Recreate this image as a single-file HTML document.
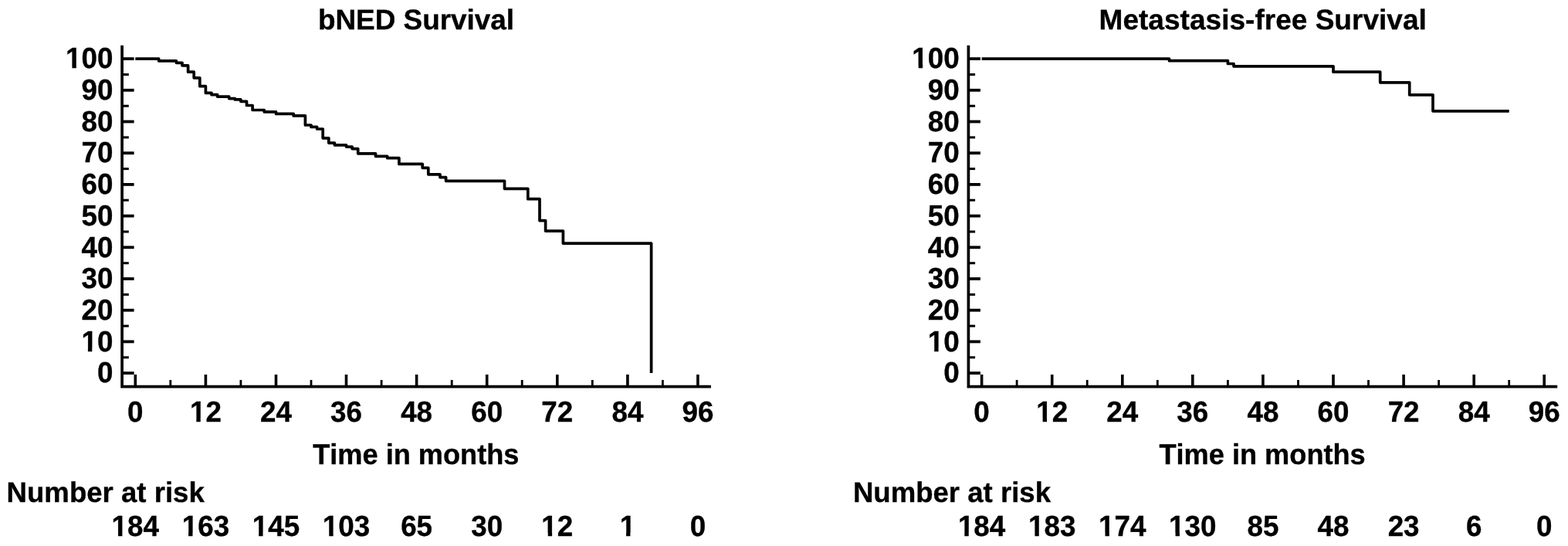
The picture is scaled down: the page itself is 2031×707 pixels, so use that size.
<!DOCTYPE html>
<html lang="en">
<head>
<meta charset="utf-8">
<title>bNED Survival and Metastasis-free Survival</title>
<style>
html,body{margin:0;padding:0;background:#fff;}
body{width:2031px;height:707px;overflow:hidden;}
svg{display:block;}
svg text{font-family:"Liberation Sans",Arial,Helvetica,sans-serif;font-weight:bold;font-size:36.8px;fill:#000;stroke:#000;stroke-width:0.35px;stroke-linejoin:miter;font-kerning:none;text-rendering:geometricPrecision;}
</style>
</head>
<body>
<svg width="2031" height="707" viewBox="0 0 2031 707">
<rect width="2031" height="707" fill="#fff"/>
<g>
<path d="M158.1 58.8V500.6H920.9" fill="none" stroke="#000" stroke-width="3.7" stroke-linecap="butt" stroke-linejoin="miter"/>
<path d="M158.1 483.1H173.6" stroke="#000" stroke-width="3.8"/>
<text transform="translate(146.4 495.35) scale(1 1.025)" text-anchor="end">0</text>
<path d="M158.1 462.8H166.8" stroke="#000" stroke-width="3"/>
<path d="M158.1 442.4H173.6" stroke="#000" stroke-width="3.8"/>
<text transform="translate(146.4 454.65) scale(1 1.025)" text-anchor="end">10</text>
<rect x="107.00" y="449.43" width="6.00" height="7.22" fill="#fff"/>
<rect x="120.00" y="449.43" width="6.00" height="7.22" fill="#fff"/>
<rect x="113.00" y="450.63" width="0.88" height="6.02" fill="#fff"/>
<rect x="119.28" y="450.63" width="0.72" height="6.02" fill="#fff"/>
<path d="M158.1 422.1H166.8" stroke="#000" stroke-width="3"/>
<path d="M158.1 401.7H173.6" stroke="#000" stroke-width="3.8"/>
<text transform="translate(146.4 413.95) scale(1 1.025)" text-anchor="end">20</text>
<path d="M158.1 381.4H166.8" stroke="#000" stroke-width="3"/>
<path d="M158.1 361.0H173.6" stroke="#000" stroke-width="3.8"/>
<text transform="translate(146.4 373.25) scale(1 1.025)" text-anchor="end">30</text>
<path d="M158.1 340.7H166.8" stroke="#000" stroke-width="3"/>
<path d="M158.1 320.3H173.6" stroke="#000" stroke-width="3.8"/>
<text transform="translate(146.4 332.55) scale(1 1.025)" text-anchor="end">40</text>
<path d="M158.1 300.0H166.8" stroke="#000" stroke-width="3"/>
<path d="M158.1 279.6H173.6" stroke="#000" stroke-width="3.8"/>
<text transform="translate(146.4 291.85) scale(1 1.025)" text-anchor="end">50</text>
<path d="M158.1 259.2H166.8" stroke="#000" stroke-width="3"/>
<path d="M158.1 238.9H173.6" stroke="#000" stroke-width="3.8"/>
<text transform="translate(146.4 251.15) scale(1 1.025)" text-anchor="end">60</text>
<path d="M158.1 218.6H166.8" stroke="#000" stroke-width="3"/>
<path d="M158.1 198.2H173.6" stroke="#000" stroke-width="3.8"/>
<text transform="translate(146.4 210.45) scale(1 1.025)" text-anchor="end">70</text>
<path d="M158.1 177.9H166.8" stroke="#000" stroke-width="3"/>
<path d="M158.1 157.5H173.6" stroke="#000" stroke-width="3.8"/>
<text transform="translate(146.4 169.75) scale(1 1.025)" text-anchor="end">80</text>
<path d="M158.1 137.2H166.8" stroke="#000" stroke-width="3"/>
<path d="M158.1 116.8H173.6" stroke="#000" stroke-width="3.8"/>
<text transform="translate(146.4 129.05) scale(1 1.025)" text-anchor="end">90</text>
<path d="M158.1 96.5H166.8" stroke="#000" stroke-width="3"/>
<path d="M158.1 76.1H173.6" stroke="#000" stroke-width="3.8"/>
<text transform="translate(146.4 88.35) scale(1 1.025)" text-anchor="end">100</text>
<rect x="87.00" y="83.13" width="6.00" height="7.22" fill="#fff"/>
<rect x="99.00" y="83.13" width="6.00" height="7.22" fill="#fff"/>
<rect x="93.00" y="84.33" width="0.41" height="6.02" fill="#fff"/>
<rect x="98.81" y="84.33" width="0.19" height="6.02" fill="#fff"/>
<path d="M175.3 485V500.6" stroke="#000" stroke-width="3.6"/>
<text transform="translate(175.3 545.9) scale(1 1.025)" text-anchor="middle">0</text>
<text transform="translate(175.3 694.0) scale(1 1.025)" text-anchor="middle">184</text>
<rect x="146.00" y="688.78" width="7.00" height="7.22" fill="#fff"/>
<rect x="159.00" y="688.78" width="6.00" height="7.22" fill="#fff"/>
<rect x="153.00" y="689.98" width="0.01" height="6.02" fill="#fff"/>
<rect x="158.41" y="689.98" width="0.59" height="6.02" fill="#fff"/>
<path d="M220.8 492V500.6" stroke="#000" stroke-width="2.8"/>
<path d="M266.4 485V500.6" stroke="#000" stroke-width="3.6"/>
<text transform="translate(266.4 545.9) scale(1 1.025)" text-anchor="middle">12</text>
<text transform="translate(266.4 694.0) scale(1 1.025)" text-anchor="middle">163</text>
<rect x="248.00" y="540.68" width="6.00" height="7.22" fill="#fff"/>
<rect x="260.00" y="540.68" width="6.00" height="7.22" fill="#fff"/>
<rect x="254.00" y="541.88" width="0.33" height="6.02" fill="#fff"/>
<rect x="259.73" y="541.88" width="0.27" height="6.02" fill="#fff"/>
<rect x="237.00" y="688.78" width="7.00" height="7.22" fill="#fff"/>
<rect x="250.00" y="688.78" width="6.00" height="7.22" fill="#fff"/>
<rect x="244.00" y="689.98" width="0.09" height="6.02" fill="#fff"/>
<rect x="249.49" y="689.98" width="0.51" height="6.02" fill="#fff"/>
<path d="M311.9 492V500.6" stroke="#000" stroke-width="2.8"/>
<path d="M357.5 485V500.6" stroke="#000" stroke-width="3.6"/>
<text transform="translate(357.5 545.9) scale(1 1.025)" text-anchor="middle">24</text>
<text transform="translate(357.5 694.0) scale(1 1.025)" text-anchor="middle">145</text>
<rect x="328.00" y="688.78" width="7.00" height="7.22" fill="#fff"/>
<rect x="341.00" y="688.78" width="6.00" height="7.22" fill="#fff"/>
<rect x="335.00" y="689.98" width="0.17" height="6.02" fill="#fff"/>
<rect x="340.57" y="689.98" width="0.43" height="6.02" fill="#fff"/>
<path d="M403.0 492V500.6" stroke="#000" stroke-width="2.8"/>
<path d="M448.5 485V500.6" stroke="#000" stroke-width="3.6"/>
<text transform="translate(448.5 545.9) scale(1 1.025)" text-anchor="middle">36</text>
<text transform="translate(448.5 694.0) scale(1 1.025)" text-anchor="middle">103</text>
<rect x="419.00" y="688.78" width="7.00" height="7.22" fill="#fff"/>
<rect x="432.00" y="688.78" width="6.00" height="7.22" fill="#fff"/>
<rect x="426.00" y="689.98" width="0.25" height="6.02" fill="#fff"/>
<rect x="431.65" y="689.98" width="0.35" height="6.02" fill="#fff"/>
<path d="M494.1 492V500.6" stroke="#000" stroke-width="2.8"/>
<path d="M539.6 485V500.6" stroke="#000" stroke-width="3.6"/>
<text transform="translate(539.6 545.9) scale(1 1.025)" text-anchor="middle">48</text>
<text transform="translate(539.6 694.0) scale(1 1.025)" text-anchor="middle">65</text>
<path d="M585.2 492V500.6" stroke="#000" stroke-width="2.8"/>
<path d="M630.7 485V500.6" stroke="#000" stroke-width="3.6"/>
<text transform="translate(630.7 545.9) scale(1 1.025)" text-anchor="middle">60</text>
<text transform="translate(630.7 694.0) scale(1 1.025)" text-anchor="middle">30</text>
<path d="M676.2 492V500.6" stroke="#000" stroke-width="2.8"/>
<path d="M721.8 485V500.6" stroke="#000" stroke-width="3.6"/>
<text transform="translate(721.8 545.9) scale(1 1.025)" text-anchor="middle">72</text>
<text transform="translate(721.8 694.0) scale(1 1.025)" text-anchor="middle">12</text>
<rect x="703.00" y="688.78" width="6.00" height="7.22" fill="#fff"/>
<rect x="716.00" y="688.78" width="5.00" height="7.22" fill="#fff"/>
<rect x="709.00" y="689.98" width="0.73" height="6.02" fill="#fff"/>
<rect x="715.13" y="689.98" width="0.87" height="6.02" fill="#fff"/>
<path d="M767.3 492V500.6" stroke="#000" stroke-width="2.8"/>
<path d="M812.9 485V500.6" stroke="#000" stroke-width="3.6"/>
<text transform="translate(812.9 545.9) scale(1 1.025)" text-anchor="middle">84</text>
<text transform="translate(812.9 694.0) scale(1 1.025)" text-anchor="middle">1</text>
<rect x="804.00" y="688.78" width="7.00" height="7.22" fill="#fff"/>
<rect x="817.00" y="688.78" width="6.00" height="7.22" fill="#fff"/>
<rect x="811.00" y="689.98" width="0.04" height="6.02" fill="#fff"/>
<rect x="816.44" y="689.98" width="0.56" height="6.02" fill="#fff"/>
<path d="M858.4 492V500.6" stroke="#000" stroke-width="2.8"/>
<path d="M903.9 485V500.6" stroke="#000" stroke-width="3.6"/>
<text transform="translate(903.9 545.9) scale(1 1.025)" text-anchor="middle">96</text>
<text transform="translate(903.9 694.0) scale(1 1.025)" text-anchor="middle">0</text>
<path d="M175.3 76.1H205.7V78.9H228.4V81.3H236.0V84.8H243.6V93.2H251.2V100.8H258.8V111.7H266.4V120.4H274.0V122.7H281.6V125.1H296.7V127.6H304.3V128.9H311.9V131.3H319.5V136.5H327.1V142.5H342.3V144.9H357.5V147.4H380.2V149.9H395.4V162.0H403.0V164.4H410.6V167.0H418.2V178.8H425.8V185.1H433.4V187.8H448.5V190.1H456.1V192.6H463.7V198.8H486.5V202.3H501.7V204.7H516.9V212.4H547.2V217.3H554.8V225.8H570.0V229.6H577.6V234.3H653.5V244.3H683.8V257.7H699.0V285.7H706.6V299.1H729.4V315.1H843.6V483.1" fill="none" stroke="#000" stroke-width="3.7" stroke-linejoin="round" stroke-linecap="butt"/>
<text transform="translate(539.0 38.2) scale(1.0025 1)" text-anchor="middle">bNED Survival</text>
<text transform="translate(538.8 600.8) scale(0.983 1.015)" text-anchor="middle">Time in months</text>
<text transform="translate(8.6 650) scale(0.994 1)" text-anchor="start">Number at risk</text>
</g>
<g>
<path d="M1254.4 58.8V500.6H2017.2" fill="none" stroke="#000" stroke-width="3.7" stroke-linecap="butt" stroke-linejoin="miter"/>
<path d="M1254.4 483.1H1269.9" stroke="#000" stroke-width="3.8"/>
<text transform="translate(1242.7 495.35) scale(1 1.025)" text-anchor="end">0</text>
<path d="M1254.4 462.8H1263.1" stroke="#000" stroke-width="3"/>
<path d="M1254.4 442.4H1269.9" stroke="#000" stroke-width="3.8"/>
<text transform="translate(1242.7 454.65) scale(1 1.025)" text-anchor="end">10</text>
<rect x="1203.00" y="449.43" width="7.00" height="7.22" fill="#fff"/>
<rect x="1216.00" y="449.43" width="6.00" height="7.22" fill="#fff"/>
<rect x="1210.00" y="450.63" width="0.18" height="6.02" fill="#fff"/>
<rect x="1215.58" y="450.63" width="0.42" height="6.02" fill="#fff"/>
<path d="M1254.4 422.1H1263.1" stroke="#000" stroke-width="3"/>
<path d="M1254.4 401.7H1269.9" stroke="#000" stroke-width="3.8"/>
<text transform="translate(1242.7 413.95) scale(1 1.025)" text-anchor="end">20</text>
<path d="M1254.4 381.4H1263.1" stroke="#000" stroke-width="3"/>
<path d="M1254.4 361.0H1269.9" stroke="#000" stroke-width="3.8"/>
<text transform="translate(1242.7 373.25) scale(1 1.025)" text-anchor="end">30</text>
<path d="M1254.4 340.7H1263.1" stroke="#000" stroke-width="3"/>
<path d="M1254.4 320.3H1269.9" stroke="#000" stroke-width="3.8"/>
<text transform="translate(1242.7 332.55) scale(1 1.025)" text-anchor="end">40</text>
<path d="M1254.4 300.0H1263.1" stroke="#000" stroke-width="3"/>
<path d="M1254.4 279.6H1269.9" stroke="#000" stroke-width="3.8"/>
<text transform="translate(1242.7 291.85) scale(1 1.025)" text-anchor="end">50</text>
<path d="M1254.4 259.2H1263.1" stroke="#000" stroke-width="3"/>
<path d="M1254.4 238.9H1269.9" stroke="#000" stroke-width="3.8"/>
<text transform="translate(1242.7 251.15) scale(1 1.025)" text-anchor="end">60</text>
<path d="M1254.4 218.6H1263.1" stroke="#000" stroke-width="3"/>
<path d="M1254.4 198.2H1269.9" stroke="#000" stroke-width="3.8"/>
<text transform="translate(1242.7 210.45) scale(1 1.025)" text-anchor="end">70</text>
<path d="M1254.4 177.9H1263.1" stroke="#000" stroke-width="3"/>
<path d="M1254.4 157.5H1269.9" stroke="#000" stroke-width="3.8"/>
<text transform="translate(1242.7 169.75) scale(1 1.025)" text-anchor="end">80</text>
<path d="M1254.4 137.2H1263.1" stroke="#000" stroke-width="3"/>
<path d="M1254.4 116.8H1269.9" stroke="#000" stroke-width="3.8"/>
<text transform="translate(1242.7 129.05) scale(1 1.025)" text-anchor="end">90</text>
<path d="M1254.4 96.5H1263.1" stroke="#000" stroke-width="3"/>
<path d="M1254.4 76.1H1269.9" stroke="#000" stroke-width="3.8"/>
<text transform="translate(1242.7 88.35) scale(1 1.025)" text-anchor="end">100</text>
<rect x="1183.00" y="83.13" width="6.00" height="7.22" fill="#fff"/>
<rect x="1196.00" y="83.13" width="5.00" height="7.22" fill="#fff"/>
<rect x="1189.00" y="84.33" width="0.71" height="6.02" fill="#fff"/>
<rect x="1195.11" y="84.33" width="0.89" height="6.02" fill="#fff"/>
<path d="M1271.6 485V500.6" stroke="#000" stroke-width="3.6"/>
<text transform="translate(1271.6 545.9) scale(1 1.025)" text-anchor="middle">0</text>
<text transform="translate(1271.6 694.0) scale(1 1.025)" text-anchor="middle">184</text>
<rect x="1243.00" y="688.78" width="6.00" height="7.22" fill="#fff"/>
<rect x="1255.00" y="688.78" width="6.00" height="7.22" fill="#fff"/>
<rect x="1249.00" y="689.98" width="0.31" height="6.02" fill="#fff"/>
<rect x="1254.71" y="689.98" width="0.29" height="6.02" fill="#fff"/>
<path d="M1317.1 492V500.6" stroke="#000" stroke-width="2.8"/>
<path d="M1362.7 485V500.6" stroke="#000" stroke-width="3.6"/>
<text transform="translate(1362.7 545.9) scale(1 1.025)" text-anchor="middle">12</text>
<text transform="translate(1362.7 694.0) scale(1 1.025)" text-anchor="middle">183</text>
<rect x="1344.00" y="540.68" width="6.00" height="7.22" fill="#fff"/>
<rect x="1357.00" y="540.68" width="5.00" height="7.22" fill="#fff"/>
<rect x="1350.00" y="541.88" width="0.63" height="6.02" fill="#fff"/>
<rect x="1356.03" y="541.88" width="0.97" height="6.02" fill="#fff"/>
<rect x="1334.00" y="688.78" width="6.00" height="7.22" fill="#fff"/>
<rect x="1346.00" y="688.78" width="6.00" height="7.22" fill="#fff"/>
<rect x="1340.00" y="689.98" width="0.39" height="6.02" fill="#fff"/>
<rect x="1345.79" y="689.98" width="0.21" height="6.02" fill="#fff"/>
<path d="M1408.2 492V500.6" stroke="#000" stroke-width="2.8"/>
<path d="M1453.8 485V500.6" stroke="#000" stroke-width="3.6"/>
<text transform="translate(1453.8 545.9) scale(1 1.025)" text-anchor="middle">24</text>
<text transform="translate(1453.8 694.0) scale(1 1.025)" text-anchor="middle">174</text>
<rect x="1425.00" y="688.78" width="6.00" height="7.22" fill="#fff"/>
<rect x="1437.00" y="688.78" width="6.00" height="7.22" fill="#fff"/>
<rect x="1431.00" y="689.98" width="0.47" height="6.02" fill="#fff"/>
<rect x="1436.87" y="689.98" width="0.13" height="6.02" fill="#fff"/>
<path d="M1499.3 492V500.6" stroke="#000" stroke-width="2.8"/>
<path d="M1544.8 485V500.6" stroke="#000" stroke-width="3.6"/>
<text transform="translate(1544.8 545.9) scale(1 1.025)" text-anchor="middle">36</text>
<text transform="translate(1544.8 694.0) scale(1 1.025)" text-anchor="middle">130</text>
<rect x="1516.00" y="688.78" width="6.00" height="7.22" fill="#fff"/>
<rect x="1528.00" y="688.78" width="6.00" height="7.22" fill="#fff"/>
<rect x="1522.00" y="689.98" width="0.55" height="6.02" fill="#fff"/>
<rect x="1527.95" y="689.98" width="0.05" height="6.02" fill="#fff"/>
<path d="M1590.4 492V500.6" stroke="#000" stroke-width="2.8"/>
<path d="M1635.9 485V500.6" stroke="#000" stroke-width="3.6"/>
<text transform="translate(1635.9 545.9) scale(1 1.025)" text-anchor="middle">48</text>
<text transform="translate(1635.9 694.0) scale(1 1.025)" text-anchor="middle">85</text>
<path d="M1681.5 492V500.6" stroke="#000" stroke-width="2.8"/>
<path d="M1727.0 485V500.6" stroke="#000" stroke-width="3.6"/>
<text transform="translate(1727.0 545.9) scale(1 1.025)" text-anchor="middle">60</text>
<text transform="translate(1727.0 694.0) scale(1 1.025)" text-anchor="middle">48</text>
<path d="M1772.5 492V500.6" stroke="#000" stroke-width="2.8"/>
<path d="M1818.1 485V500.6" stroke="#000" stroke-width="3.6"/>
<text transform="translate(1818.1 545.9) scale(1 1.025)" text-anchor="middle">72</text>
<text transform="translate(1818.1 694.0) scale(1 1.025)" text-anchor="middle">23</text>
<path d="M1863.6 492V500.6" stroke="#000" stroke-width="2.8"/>
<path d="M1909.2 485V500.6" stroke="#000" stroke-width="3.6"/>
<text transform="translate(1909.2 545.9) scale(1 1.025)" text-anchor="middle">84</text>
<text transform="translate(1909.2 694.0) scale(1 1.025)" text-anchor="middle">6</text>
<path d="M1954.7 492V500.6" stroke="#000" stroke-width="2.8"/>
<path d="M2000.2 485V500.6" stroke="#000" stroke-width="3.6"/>
<text transform="translate(2000.2 545.9) scale(1 1.025)" text-anchor="middle">96</text>
<text transform="translate(2000.2 694.0) scale(1 1.025)" text-anchor="middle">0</text>
<path d="M1271.6 76.1H1514.5V78.7H1590.4V82.5H1598.0V85.8H1727.0V93.2H1787.7V106.8H1825.7V122.8H1856.0V143.8H1954.7" fill="none" stroke="#000" stroke-width="3.7" stroke-linejoin="round" stroke-linecap="butt"/>
<text transform="translate(1635.7 38.2) scale(1.007 1)" text-anchor="middle">Metastasis-free Survival</text>
<text transform="translate(1635.1 600.8) scale(0.983 1.015)" text-anchor="middle">Time in months</text>
<text transform="translate(1104.9 650) scale(0.994 1)" text-anchor="start">Number at risk</text>
</g>
</svg>
</body>
</html>
